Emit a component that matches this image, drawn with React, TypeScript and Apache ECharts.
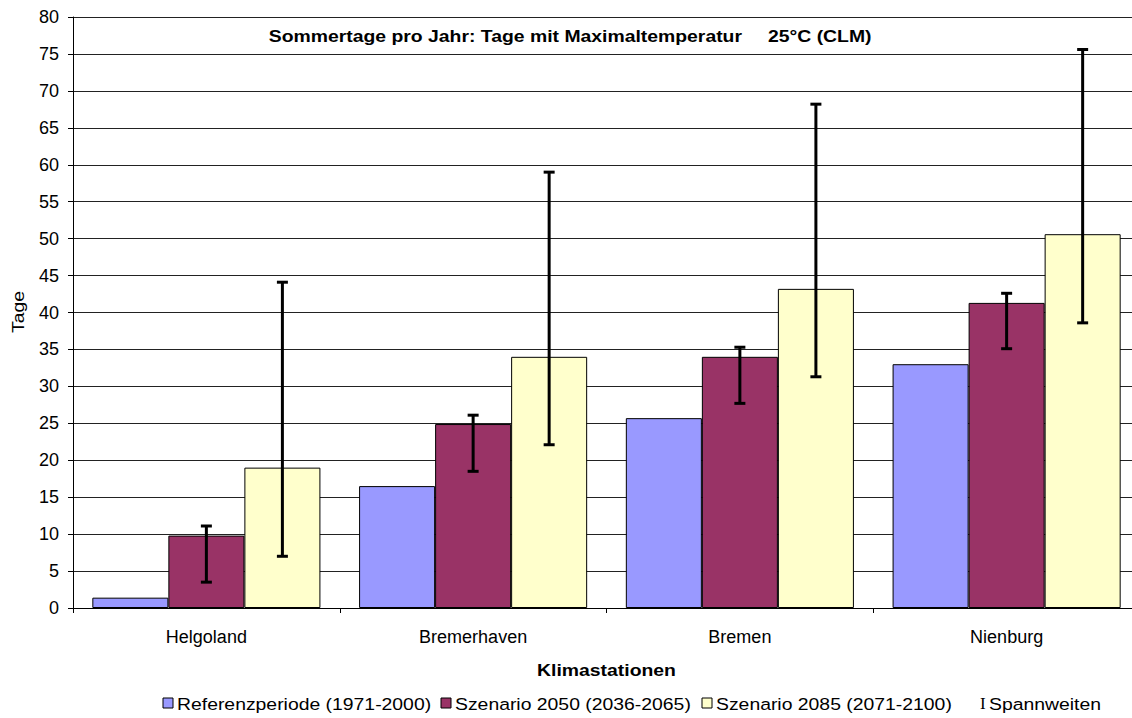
import { useEffect, useRef } from 'react';
import * as echarts from 'echarts';

const categories = ['Helgoland', 'Bremerhaven', 'Bremen', 'Nienburg'];
const seriesNames = ['Referenzperiode (1971-2000)', 'Szenario 2050 (2036-2065)', 'Szenario 2085 (2071-2100)'];
const referenz = [1.4, 16.5, 25.7, 33.0];
const szenario2050 = [9.8, 24.9, 34.0, 41.3];
const szenario2085 = [19.0, 34.0, 43.2, 50.6];
const spanne2050Min = [3.5, 18.5, 27.7, 35.1];
const spanne2050Max = [11.1, 26.1, 35.3, 42.6];
const spanne2085Min = [7.0, 22.1, 31.3, 38.6];
const spanne2085Max = [44.1, 59.0, 68.2, 75.6];
const yMin = 0;
const yMax = 80;
const yStep = 5;
const titleMain = 'Sommertage pro Jahr: Tage mit Maximaltemperatur';
const titleTail = '25°C (CLM)';
const xAxisTitle = 'Klimastationen';
const yAxisTitle = 'Tage';
const rangeLabel = 'Spannweiten';

const colors = ['#9999FF', '#993366', '#FFFFCC'];
const FONT = 'Liberation Sans, Arial, Helvetica, sans-serif';
const GAP = 0.145;
const SX = 1.14;

function errorSeries(lows: number[], highs: number[], slot: number) {
  return {
    type: 'custom',
    z: 5,
    silent: true,
    encode: { x: 0, y: [1, 2] },
    data: categories.map((_, i) => [i, lows[i], highs[i]]),
    renderItem: (_params: any, api: any) => {
      const ci = api.value(0);
      const lo = api.coord([ci, api.value(1)]);
      const hi = api.coord([ci, api.value(2)]);
      const bandW = api.size([1, 0])[0];
      const barW = (bandW * (1 - GAP)) / 3;
      const x = lo[0] + (slot - 1) * barW;
      const cap = 5.5;
      const st = { stroke: '#000', lineWidth: 3 };
      return {
        type: 'group',
        children: [
          { type: 'line', shape: { x1: x, y1: hi[1], x2: x, y2: lo[1] }, style: st },
          { type: 'line', shape: { x1: x - cap, y1: hi[1], x2: x + cap, y2: hi[1] }, style: st },
          { type: 'line', shape: { x1: x - cap, y1: lo[1], x2: x + cap, y2: lo[1] }, style: st },
        ],
      };
    },
  };
}

export default function App() {
  const ref = useRef<HTMLDivElement>(null);
  useEffect(() => {
    if (!ref.current) return;
    const chart = echarts.init(ref.current, undefined, { renderer: 'svg' });
    const values = [referenz, szenario2050, szenario2085];
    const legendX = [163, 441, 702];
    const txt = (text: string, x: number, y: number, extra: any = {}) => ({
      type: 'text',
      x,
      y,
      scaleX: extra.scaleX ?? SX,
      rotation: extra.rotation ?? 0,
      style: {
        text,
        fill: '#000',
        fontSize: extra.fontSize ?? 17,
        fontWeight: extra.fontWeight ?? 'normal',
        fontFamily: extra.fontFamily ?? FONT,
        align: extra.align ?? 'left',
        verticalAlign: 'middle',
      },
    });
    const graphics: any[] = [
      txt(titleMain, 742, 36, { fontWeight: 'bold', align: 'right' }),
      txt(titleTail, 768, 36, { fontWeight: 'bold' }),
      txt(xAxisTitle, 606.5, 670, { fontWeight: 'bold', align: 'center' }),
      txt(yAxisTitle, 18.5, 312, { align: 'center', rotation: Math.PI / 2 }),
    ];
    seriesNames.forEach((name, i) => {
      graphics.push({
        type: 'rect',
        shape: { x: legendX[i], y: 698, width: 10, height: 10 },
        style: { fill: colors[i], stroke: '#000', lineWidth: 1 },
      });
      graphics.push(txt(name, legendX[i] + 14, 704));
    });
    graphics.push(txt('I', 980, 703, { fontFamily: 'Liberation Serif, Times New Roman, serif', scaleX: 1 }));
    graphics.push(txt(rangeLabel, 989, 704));

    chart.setOption({
      animation: false,
      backgroundColor: '#fff',
      grid: { left: 73, right: 0, top: 17, bottom: 110, containLabel: false },
      xAxis: {
        type: 'category',
        data: categories,
        axisLine: { lineStyle: { color: '#000', width: 1 } },
        axisTick: { show: true, length: 5, lineStyle: { color: '#000' } },
        axisLabel: { color: '#000', fontSize: 18, fontFamily: FONT, margin: 20 },
        splitLine: { show: false },
      },
      yAxis: {
        type: 'value',
        min: yMin,
        max: yMax,
        interval: yStep,
        axisLine: { show: true, lineStyle: { color: '#000', width: 1 } },
        axisTick: { show: true, length: 5, lineStyle: { color: '#000' } },
        axisLabel: { color: '#000', fontSize: 18, fontFamily: FONT, margin: 14 },
        splitLine: { show: true, lineStyle: { color: '#222', width: 1 } },
      },
      series: [
        ...values.map((vals, i) => ({
          type: 'bar',
          name: seriesNames[i],
          data: vals,
          barGap: '0%',
          barCategoryGap: GAP * 100 + '%',
          itemStyle: { color: colors[i], borderColor: '#000', borderWidth: 1 },
        })),
        errorSeries(spanne2050Min, spanne2050Max, 1),
        errorSeries(spanne2085Min, spanne2085Max, 2),
      ],
      graphic: graphics,
    });
    return () => chart.dispose();
  }, []);
  return (
    <div
      ref={ref}
      style={{ position: 'fixed', left: 0, top: 0, width: 1140, height: 718, background: '#fff' }}
    />
  );
}
